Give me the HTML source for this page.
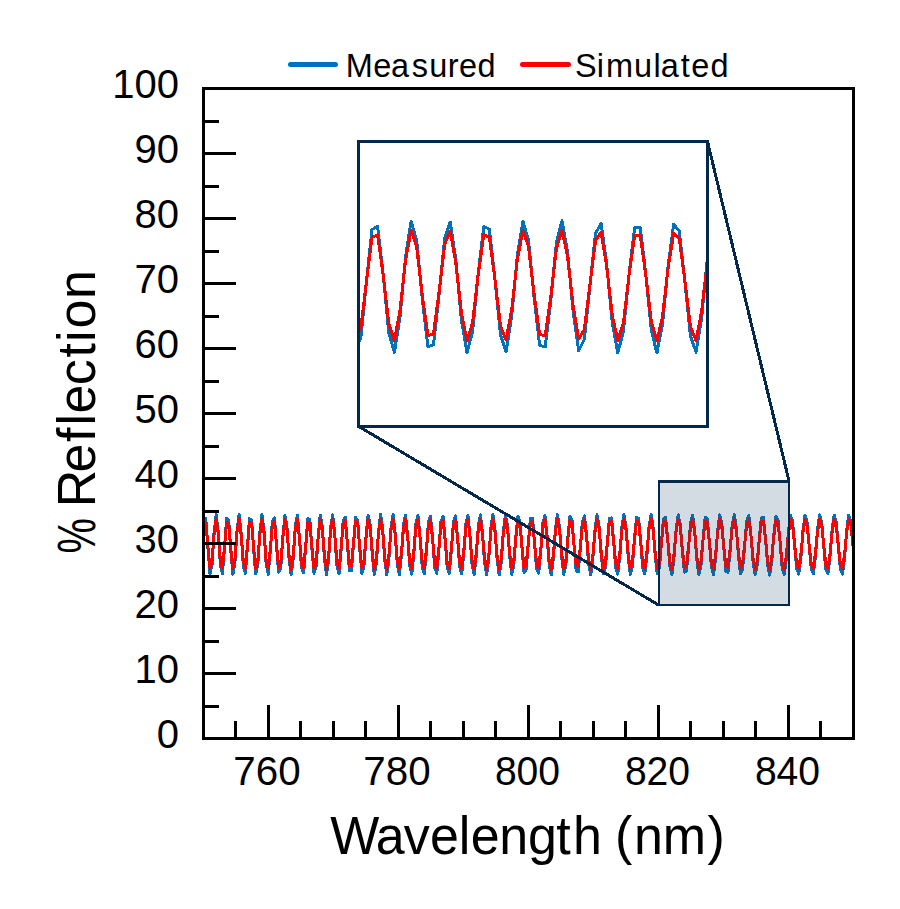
<!DOCTYPE html>
<html>
<head>
<meta charset="utf-8">
<title>Reflection spectrum</title>
<style>
html,body{margin:0;padding:0;background:#ffffff;}
body{width:900px;height:909px;overflow:hidden;font-family:"Liberation Sans",sans-serif;}
svg{display:block;}
svg text{font-family:"Liberation Sans",sans-serif;fill:#000000;}
</style>
</head>
<body>
<svg width="900" height="909" viewBox="0 0 900 909">
<defs>
<clipPath id="cpMain"><rect x="203.5" y="88.5" width="650.0" height="650.0"/></clipPath>
<clipPath id="cpInset"><rect x="358.5" y="141.5" width="349.0" height="285.0"/></clipPath>
</defs>
<rect x="0" y="0" width="900" height="909" fill="#ffffff"/>

<!-- main data -->
<g clip-path="url(#cpMain)" fill="none" stroke-width="3" stroke-linejoin="round" shape-rendering="crispEdges">
<path stroke="#0072bd" d="M199.6,574.6 L201.6,551.8 L203.7,520.7 L205.8,518.5 L207.9,547.8 L210.0,573.5 L212.0,565.0 L214.1,532.3 L216.2,514.6 L218.3,532.7 L220.4,565.2 L222.4,573.5 L224.5,547.9 L226.6,518.6 L228.7,520.3 L230.8,550.8 L232.9,574.2 L234.9,563.2 L237.0,530.6 L239.1,514.6 L241.2,533.9 L243.3,565.8 L245.3,573.3 L247.4,547.7 L249.5,518.7 L251.6,520.0 L253.7,549.9 L255.7,574.0 L257.8,564.4 L259.9,532.3 L262.0,514.6 L264.1,531.5 L266.1,563.7 L268.2,574.2 L270.3,551.2 L272.4,520.9 L274.5,517.8 L276.5,545.3 L278.6,572.3 L280.7,568.1 L282.8,537.6 L284.9,515.2 L286.9,526.2 L289.0,558.1 L291.1,575.0 L293.2,558.1 L295.3,526.3 L297.4,515.2 L299.4,537.1 L301.5,567.6 L303.6,572.7 L305.7,546.8 L307.8,518.7 L309.8,519.5 L311.9,548.2 L314.0,573.2 L316.1,566.9 L318.2,536.3 L320.2,515.1 L322.3,526.4 L324.4,557.9 L326.5,575.0 L328.6,559.2 L330.6,527.7 L332.7,514.8 L334.8,534.5 L336.9,565.3 L339.0,573.9 L341.0,551.1 L343.1,521.5 L345.2,517.0 L347.3,542.4 L349.4,570.4 L351.4,570.9 L353.5,543.5 L355.6,517.5 L357.7,520.6 L359.8,549.5 L361.9,573.4 L363.9,566.9 L366.0,537.0 L368.1,515.4 L370.2,524.8 L372.3,555.3 L374.3,574.7 L376.4,562.7 L378.5,531.9 L380.6,514.6 L382.7,529.0 L384.7,559.8 L386.8,575.0 L388.9,558.7 L391.0,528.0 L393.1,514.7 L395.1,532.6 L397.2,563.1 L399.3,574.7 L401.4,555.4 L403.5,525.2 L405.5,515.2 L407.6,535.5 L409.7,565.4 L411.8,574.2 L413.9,552.9 L415.9,523.4 L418.0,515.7 L420.1,537.6 L422.2,566.8 L424.3,573.7 L426.4,551.4 L428.4,522.4 L430.5,516.1 L432.6,538.6 L434.7,567.4 L436.8,573.5 L438.8,550.8 L440.9,522.1 L443.0,516.1 L445.1,538.7 L447.2,567.4 L449.2,573.5 L451.3,551.2 L453.4,522.5 L455.5,515.9 L457.6,537.9 L459.6,566.6 L461.7,573.9 L463.8,552.5 L465.9,523.6 L468.0,515.5 L470.0,536.0 L472.1,565.2 L474.2,574.4 L476.3,554.8 L478.4,525.5 L480.4,514.9 L482.5,533.4 L484.6,562.8 L486.7,574.9 L488.8,557.9 L490.9,528.3 L492.9,514.6 L495.0,529.9 L497.1,559.5 L499.2,575.0 L501.3,561.6 L503.3,532.2 L505.4,514.8 L507.5,526.0 L509.6,555.0 L511.7,574.4 L513.7,565.7 L515.8,537.3 L517.9,516.0 L520.0,521.8 L522.1,549.3 L524.1,572.5 L526.2,569.7 L528.3,543.6 L530.4,518.6 L532.5,518.1 L534.5,542.5 L536.6,569.0 L538.7,573.0 L540.8,550.9 L542.9,523.1 L544.9,515.4 L547.0,534.9 L549.1,563.5 L551.2,574.9 L553.3,558.6 L555.4,529.7 L557.4,514.6 L559.5,527.2 L561.6,555.8 L563.7,574.4 L565.8,566.0 L567.8,538.3 L569.9,516.5 L572.0,520.4 L574.1,546.3 L576.2,570.9 L578.2,571.9 L580.3,548.5 L582.4,521.8 L584.5,515.8 L586.6,535.7 L588.6,563.8 L590.7,574.9 L592.8,559.1 L594.9,530.6 L597.0,514.7 L599.0,525.6 L601.1,553.5 L603.2,573.7 L605.3,568.3 L607.4,542.2 L609.4,518.4 L611.5,517.8 L613.6,540.9 L615.7,567.4 L617.8,574.1 L619.9,555.1 L621.9,527.2 L624.0,514.6 L626.1,528.3 L628.2,556.4 L630.3,574.4 L632.3,566.7 L634.4,540.1 L636.5,517.6 L638.6,518.5 L640.7,542.1 L642.7,568.0 L644.8,574.0 L646.9,555.0 L649.0,527.3 L651.1,514.6 L653.1,527.7 L655.2,555.4 L657.3,574.0 L659.4,567.9 L661.5,542.2 L663.5,518.7 L665.6,517.3 L667.7,539.1 L669.8,565.7 L671.9,574.7 L673.9,558.6 L676.0,530.9 L678.1,514.9 L680.2,523.9 L682.3,550.4 L684.4,572.2 L686.4,571.2 L688.5,548.3 L690.6,522.5 L692.7,515.2 L694.8,532.4 L696.8,559.8 L698.9,574.9 L701.0,565.1 L703.1,538.7 L705.2,517.3 L707.2,518.5 L709.3,541.2 L711.4,566.9 L713.5,574.5 L715.6,558.0 L717.6,530.7 L719.7,514.9 L721.8,523.4 L723.9,549.2 L726.0,571.4 L728.0,572.2 L730.1,550.9 L732.2,524.7 L734.3,514.7 L736.4,528.9 L738.5,555.8 L740.5,573.9 L742.6,568.8 L744.7,544.5 L746.8,520.5 L748.9,515.8 L750.9,534.1 L753.0,560.9 L755.1,574.9 L757.2,565.1 L759.3,539.3 L761.3,517.8 L763.4,517.6 L765.5,538.7 L767.6,564.6 L769.7,575.0 L771.7,561.7 L773.8,535.3 L775.9,516.3 L778.0,519.5 L780.1,542.3 L782.1,567.1 L784.2,574.6 L786.3,559.0 L788.4,532.5 L790.5,515.5 L792.5,521.0 L794.6,544.9 L796.7,568.7 L798.8,574.1 L800.9,557.1 L803.0,530.7 L805.0,515.1 L807.1,522.1 L809.2,546.4 L811.3,569.4 L813.4,573.8 L815.4,556.2 L817.5,530.0 L819.6,515.0 L821.7,522.4 L823.8,546.7 L825.8,569.6 L827.9,573.8 L830.0,556.3 L832.1,530.2 L834.2,515.0 L836.2,522.1 L838.3,546.0 L840.4,569.1 L842.5,574.1 L844.6,557.3 L846.6,531.3 L848.7,515.3 L850.8,521.0 L852.9,544.3 L855.0,567.9 L857.0,574.5"/>
<path stroke="#ff0000" d="M199.6,569.1 L201.6,550.1 L203.7,523.9 L205.8,522.1 L207.9,546.7 L210.0,568.3 L212.0,561.1 L214.1,533.7 L216.2,518.8 L218.3,534.0 L220.4,561.3 L222.4,568.2 L224.5,546.7 L226.6,522.2 L228.7,523.6 L230.8,549.1 L232.9,568.8 L234.9,559.6 L237.0,532.2 L239.1,518.8 L241.2,535.0 L243.3,561.8 L245.3,568.1 L247.4,546.6 L249.5,522.3 L251.6,523.3 L253.7,548.5 L255.7,568.6 L257.8,560.6 L259.9,533.7 L262.0,518.8 L264.1,533.0 L266.1,560.0 L268.2,568.8 L270.3,549.5 L272.4,524.1 L274.5,521.5 L276.5,544.6 L278.6,567.2 L280.7,563.7 L282.8,538.1 L284.9,519.4 L286.9,528.5 L289.0,555.3 L291.1,569.5 L293.2,555.3 L295.3,528.6 L297.4,519.3 L299.4,537.7 L301.5,563.3 L303.6,567.6 L305.7,545.9 L307.8,522.3 L309.8,522.9 L311.9,547.0 L314.0,567.9 L316.1,562.7 L318.2,537.0 L320.2,519.2 L322.3,528.7 L324.4,555.1 L326.5,569.5 L328.6,556.2 L330.6,529.8 L332.7,519.0 L334.8,535.5 L336.9,561.3 L339.0,568.6 L341.0,549.4 L343.1,524.6 L345.2,520.8 L347.3,542.1 L349.4,565.6 L351.4,566.1 L353.5,543.1 L355.6,521.2 L357.7,523.8 L359.8,548.1 L361.9,568.1 L363.9,562.7 L366.0,537.6 L368.1,519.5 L370.2,527.4 L372.3,553.0 L374.3,569.3 L376.4,559.1 L378.5,533.3 L380.6,518.8 L382.7,530.9 L384.7,556.8 L386.8,569.5 L388.9,555.8 L391.0,530.0 L393.1,518.9 L395.1,533.9 L397.2,559.5 L399.3,569.2 L401.4,553.1 L403.5,527.7 L405.5,519.3 L407.6,536.4 L409.7,561.4 L411.8,568.8 L413.9,551.0 L415.9,526.2 L418.0,519.7 L420.1,538.1 L422.2,562.6 L424.3,568.4 L426.4,549.7 L428.4,525.4 L430.5,520.0 L432.6,539.0 L434.7,563.1 L436.8,568.2 L438.8,549.2 L440.9,525.1 L443.0,520.1 L445.1,539.1 L447.2,563.1 L449.2,568.3 L451.3,549.5 L453.4,525.5 L455.5,519.9 L457.6,538.3 L459.6,562.5 L461.7,568.5 L463.8,550.6 L465.9,526.4 L468.0,519.5 L470.0,536.8 L472.1,561.2 L474.2,569.0 L476.3,552.5 L478.4,527.9 L480.4,519.1 L482.5,534.6 L484.6,559.3 L486.7,569.4 L488.8,555.1 L490.9,530.3 L492.9,518.8 L495.0,531.7 L497.1,556.5 L499.2,569.5 L501.3,558.3 L503.3,533.6 L505.4,519.0 L507.5,528.3 L509.6,552.7 L511.7,568.9 L513.7,561.7 L515.8,537.9 L517.9,520.0 L520.0,524.9 L522.1,547.9 L524.1,567.4 L526.2,565.1 L528.3,543.1 L530.4,522.2 L532.5,521.7 L534.5,542.2 L536.6,564.5 L538.7,567.8 L540.8,549.2 L542.9,525.9 L544.9,519.5 L547.0,535.8 L549.1,559.8 L551.2,569.4 L553.3,555.7 L555.4,531.5 L557.4,518.8 L559.5,529.4 L561.6,553.4 L563.7,569.0 L565.8,562.0 L567.8,538.7 L569.9,520.5 L572.0,523.7 L574.1,545.4 L576.2,566.0 L578.2,566.9 L580.3,547.3 L582.4,524.9 L584.5,519.8 L586.6,536.5 L588.6,560.1 L590.7,569.4 L592.8,556.2 L594.9,532.2 L597.0,518.9 L599.0,528.0 L601.1,551.4 L603.2,568.4 L605.3,563.9 L607.4,542.0 L609.4,522.0 L611.5,521.5 L613.6,540.9 L615.7,563.1 L617.8,568.7 L619.9,552.8 L621.9,529.4 L624.0,518.8 L626.1,530.3 L628.2,553.8 L630.3,568.9 L632.3,562.6 L634.4,540.2 L636.5,521.3 L638.6,522.1 L640.7,541.9 L642.7,563.6 L644.8,568.6 L646.9,552.7 L649.0,529.4 L651.1,518.8 L653.1,529.8 L655.2,553.0 L657.3,568.7 L659.4,563.5 L661.5,541.9 L663.5,522.2 L665.6,521.1 L667.7,539.4 L669.8,561.7 L671.9,569.2 L673.9,555.7 L676.0,532.5 L678.1,519.1 L680.2,526.6 L682.3,548.8 L684.4,567.1 L686.4,566.3 L688.5,547.1 L690.6,525.4 L692.7,519.3 L694.8,533.8 L696.8,556.8 L698.9,569.4 L701.0,561.2 L703.1,539.0 L705.2,521.1 L707.2,522.1 L709.3,541.1 L711.4,562.7 L713.5,569.1 L715.6,555.2 L717.6,532.3 L719.7,519.1 L721.8,526.2 L723.9,547.8 L726.0,566.5 L728.0,567.1 L730.1,549.2 L732.2,527.3 L734.3,518.9 L736.4,530.8 L738.5,553.4 L740.5,568.6 L742.6,564.3 L744.7,543.9 L746.8,523.8 L748.9,519.8 L750.9,535.2 L753.0,557.7 L755.1,569.4 L757.2,561.2 L759.3,539.5 L761.3,521.5 L763.4,521.3 L765.5,539.0 L767.6,560.8 L769.7,569.5 L771.7,558.4 L773.8,536.2 L775.9,520.2 L778.0,522.9 L780.1,542.1 L782.1,562.9 L784.2,569.1 L786.3,556.1 L788.4,533.8 L790.5,519.5 L792.5,524.2 L794.6,544.2 L796.7,564.2 L798.8,568.7 L800.9,554.5 L803.0,532.4 L805.0,519.2 L807.1,525.1 L809.2,545.5 L811.3,564.8 L813.4,568.5 L815.4,553.7 L817.5,531.7 L819.6,519.1 L821.7,525.4 L823.8,545.8 L825.8,564.9 L827.9,568.5 L830.0,553.8 L832.1,531.9 L834.2,519.2 L836.2,525.1 L838.3,545.2 L840.4,564.5 L842.5,568.7 L844.6,554.7 L846.6,532.9 L848.7,519.4 L850.8,524.2 L852.9,543.7 L855.0,563.5 L857.0,569.1"/>
</g>

<!-- zoom rectangle -->
<rect x="658" y="480" width="132" height="126" fill="#1e506e" fill-opacity="0.2"/>
<g fill="#03284b">
<rect x="658" y="480" width="132" height="3"/>
<rect x="658" y="604" width="132" height="2"/>
<rect x="658" y="480" width="2" height="126"/>
<rect x="788" y="480" width="2" height="126"/>
</g>

<!-- inset -->
<rect x="358.5" y="141.5" width="349.0" height="285.0" fill="#ffffff"/>
<g clip-path="url(#cpInset)" fill="none" stroke-width="3" stroke-linejoin="round" shape-rendering="crispEdges">
<path stroke="#0072bd" d="M349.7,310.0 L355.3,351.0 L360.9,337.5 L366.5,281.1 L372.0,229.6 L377.6,226.5 L383.2,274.4 L388.8,332.7 L394.4,352.4 L400.0,317.0 L405.6,256.4 L411.1,221.3 L416.7,241.0 L422.3,299.0 L427.9,346.9 L433.5,344.7 L439.1,294.5 L444.7,237.9 L450.2,222.0 L455.8,259.7 L461.4,319.8 L467.0,352.7 L472.6,331.4 L478.2,273.4 L483.8,226.5 L489.3,229.1 L494.9,278.9 L500.5,335.2 L506.1,352.0 L511.7,315.7 L517.3,256.0 L522.9,221.3 L528.4,239.9 L534.0,296.4 L539.6,345.2 L545.2,346.9 L550.8,300.1 L556.4,242.7 L562.0,220.8 L567.5,251.9 L573.1,310.9 L578.7,350.7 L584.3,339.4 L589.9,286.2 L595.5,233.6 L601.1,223.3 L606.6,263.5 L612.2,322.2 L617.8,352.9 L623.4,331.4 L629.0,274.8 L634.6,227.7 L640.2,227.2 L645.7,273.5 L651.3,330.3 L656.9,353.0 L662.5,324.0 L668.1,266.0 L673.7,224.3 L679.3,231.3 L684.9,281.5 L690.4,335.8 L696.0,352.1 L701.6,318.0 L707.2,259.8 L712.8,222.5 L718.4,234.8"/>
<path stroke="#ff0000" d="M349.7,304.8 L355.3,339.2 L360.9,327.9 L366.5,280.6 L372.0,237.4 L377.6,234.8 L383.2,275.0 L388.8,323.9 L394.4,340.4 L400.0,310.7 L405.6,259.8 L411.1,230.4 L416.7,247.0 L422.3,295.7 L427.9,335.8 L433.5,333.9 L439.1,291.8 L444.7,244.4 L450.2,231.0 L455.8,262.6 L461.4,313.1 L467.0,340.7 L472.6,322.8 L478.2,274.2 L483.8,234.8 L489.3,237.0 L494.9,278.8 L500.5,326.0 L506.1,340.1 L511.7,309.6 L517.3,259.5 L522.9,230.5 L528.4,246.0 L534.0,293.5 L539.6,334.4 L545.2,335.7 L550.8,296.6 L556.4,248.4 L562.0,230.1 L567.5,256.1 L573.1,305.6 L578.7,339.0 L584.3,329.5 L589.9,284.9 L595.5,240.7 L601.1,232.1 L606.6,265.8 L612.2,315.0 L617.8,340.8 L623.4,322.8 L629.0,275.3 L634.6,235.8 L640.2,235.4 L645.7,274.2 L651.3,321.8 L656.9,340.9 L662.5,316.6 L668.1,267.9 L673.7,233.0 L679.3,238.8 L684.9,280.9 L690.4,326.5 L696.0,340.2 L701.6,311.6 L707.2,262.8 L712.8,231.5 L718.4,241.7"/>
</g>
<rect x="358.5" y="141.5" width="349.0" height="285.0" fill="none" stroke="#03284b" stroke-width="3"/>

<!-- connectors -->
<g stroke="#03284b" stroke-width="3" fill="none" shape-rendering="crispEdges">
<line x1="358.5" y1="426.3" x2="658.5" y2="605"/>
<line x1="707.5" y1="141.5" x2="789" y2="481"/>
</g>

<!-- axes -->
<g stroke="#000000" stroke-width="3" fill="none" shape-rendering="crispEdges">
<line x1="203.5" y1="706.5" x2="219.0" y2="706.5"/>
<line x1="203.5" y1="673.5" x2="236.0" y2="673.5"/>
<line x1="203.5" y1="641.5" x2="219.0" y2="641.5"/>
<line x1="203.5" y1="608.5" x2="236.0" y2="608.5"/>
<line x1="203.5" y1="576.5" x2="219.0" y2="576.5"/>
<line x1="203.5" y1="543.5" x2="236.0" y2="543.5"/>
<line x1="203.5" y1="511.5" x2="219.0" y2="511.5"/>
<line x1="203.5" y1="478.5" x2="236.0" y2="478.5"/>
<line x1="203.5" y1="446.5" x2="219.0" y2="446.5"/>
<line x1="203.5" y1="413.5" x2="236.0" y2="413.5"/>
<line x1="203.5" y1="381.5" x2="219.0" y2="381.5"/>
<line x1="203.5" y1="348.5" x2="236.0" y2="348.5"/>
<line x1="203.5" y1="316.5" x2="219.0" y2="316.5"/>
<line x1="203.5" y1="283.5" x2="236.0" y2="283.5"/>
<line x1="203.5" y1="251.5" x2="219.0" y2="251.5"/>
<line x1="203.5" y1="218.5" x2="236.0" y2="218.5"/>
<line x1="203.5" y1="186.5" x2="219.0" y2="186.5"/>
<line x1="203.5" y1="153.5" x2="236.0" y2="153.5"/>
<line x1="203.5" y1="121.5" x2="219.0" y2="121.5"/>
<line x1="235.5" y1="738.5" x2="235.5" y2="721.0"/>
<line x1="268.5" y1="738.5" x2="268.5" y2="705.0"/>
<line x1="300.5" y1="738.5" x2="300.5" y2="721.0"/>
<line x1="333.5" y1="738.5" x2="333.5" y2="721.0"/>
<line x1="365.5" y1="738.5" x2="365.5" y2="721.0"/>
<line x1="398.5" y1="738.5" x2="398.5" y2="705.0"/>
<line x1="430.5" y1="738.5" x2="430.5" y2="721.0"/>
<line x1="463.5" y1="738.5" x2="463.5" y2="721.0"/>
<line x1="495.5" y1="738.5" x2="495.5" y2="721.0"/>
<line x1="528.5" y1="738.5" x2="528.5" y2="705.0"/>
<line x1="560.5" y1="738.5" x2="560.5" y2="721.0"/>
<line x1="593.5" y1="738.5" x2="593.5" y2="721.0"/>
<line x1="625.5" y1="738.5" x2="625.5" y2="721.0"/>
<line x1="658.5" y1="738.5" x2="658.5" y2="705.0"/>
<line x1="690.5" y1="738.5" x2="690.5" y2="721.0"/>
<line x1="723.5" y1="738.5" x2="723.5" y2="721.0"/>
<line x1="755.5" y1="738.5" x2="755.5" y2="721.0"/>
<line x1="788.5" y1="738.5" x2="788.5" y2="705.0"/>
<line x1="820.5" y1="738.5" x2="820.5" y2="721.0"/>
<rect x="203.5" y="88.5" width="650.0" height="650.0"/>
</g>

<!-- tick labels -->
<g font-size="40">
<text x="179" y="748.0" text-anchor="end">0</text>
<text x="179" y="683.0" text-anchor="end">10</text>
<text x="179" y="618.0" text-anchor="end">20</text>
<text x="179" y="553.0" text-anchor="end">30</text>
<text x="179" y="488.0" text-anchor="end">40</text>
<text x="179" y="423.0" text-anchor="end">50</text>
<text x="179" y="358.0" text-anchor="end">60</text>
<text x="179" y="293.0" text-anchor="end">70</text>
<text x="179" y="228.0" text-anchor="end">80</text>
<text x="179" y="163.0" text-anchor="end">90</text>
<text x="179" y="98.0" text-anchor="end">100</text>
<text x="267.0" y="785" text-anchor="middle" textLength="67.3" lengthAdjust="spacingAndGlyphs">760</text>
<text x="397.0" y="785" text-anchor="middle" textLength="67.3" lengthAdjust="spacingAndGlyphs">780</text>
<text x="527.5" y="785" text-anchor="middle" textLength="65.2" lengthAdjust="spacingAndGlyphs">800</text>
<text x="657.5" y="785" text-anchor="middle" textLength="65.2" lengthAdjust="spacingAndGlyphs">820</text>
<text x="787.5" y="785" text-anchor="middle" textLength="65.2" lengthAdjust="spacingAndGlyphs">840</text>
</g>

<!-- axis titles -->
<text font-size="52" transform="translate(0,853.5) scale(1,1.035)" x="330.2 375.7 403.8 430.0 458.8 470.8 499.2 527.9 556.3 572.9 601.8 615.1 633.9 662.8 707.6" y="0">Wavelength (nm)</text>
<text font-size="52" transform="translate(94.6,553.4) rotate(-90) scale(1,1.035)" textLength="35.4" lengthAdjust="spacingAndGlyphs">%</text>
<text font-size="52" transform="translate(94.6,555.0) rotate(-90) scale(1,1.035)" x="47.7 82.5 113.0 129.4 141.5 169.8 197.4 213.1 226.4 256.1" y="0">Reflection</text>

<!-- legend -->
<line x1="290.5" y1="64.5" x2="335.5" y2="64.5" stroke="#0072bd" stroke-width="5" stroke-linecap="round"/>
<text font-size="32.5" transform="translate(0,77.4) scale(1,1.035)" x="345.7 373.2 391.0 411.8 429.2 447.8 459.0 477.5" y="0">Measured</text>
<line x1="522.5" y1="64.5" x2="568.5" y2="64.5" stroke="#ff0000" stroke-width="5" stroke-linecap="round"/>
<text font-size="32.5" transform="translate(0,77.4) scale(1,1.035)" x="575.1 596.8 605.9 634.1 653.4 660.8 680.7 691.3 710.4" y="0">Simulated</text>
</svg>
</body>
</html>
